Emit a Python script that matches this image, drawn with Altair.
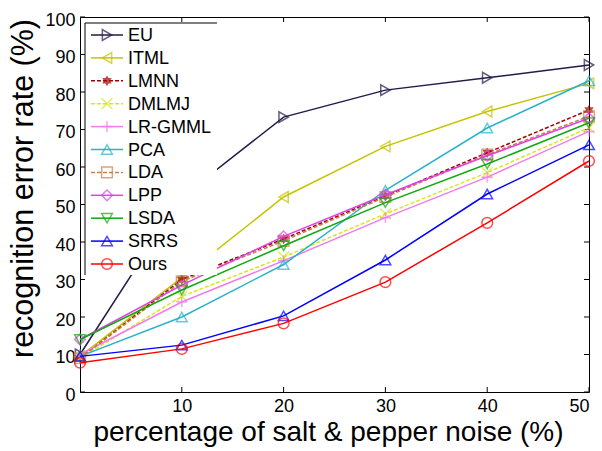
import altair as alt
import pandas as pd

# noise level (%) on the x axis
noise = [0, 10, 20, 30, 40, 50]

methods = ["EU", "ITML", "LMNN", "DMLMJ", "LR-GMML", "PCA", "LDA", "LPP", "LSDA", "SRRS", "Ours"]

# recognition error rate (%) per method
eu     = [10.0, 52.0, 73.3, 80.5, 83.8, 87.2]
itml   = [9.5, 30.5, 52.0, 65.5, 74.8, 82.3]
lmnn   = [9.0, 30.0, 40.8, 52.3, 63.8, 75.2]
dmlmj  = [9.0, 25.5, 36.0, 47.5, 58.5, 70.5]
lrgmml = [10.0, 24.0, 35.0, 46.5, 57.3, 69.5]
pca    = [9.5, 20.0, 34.0, 53.8, 70.4, 83.0]
lda    = [9.0, 29.5, 40.3, 52.0, 63.3, 73.5]
lpp    = [14.0, 28.5, 41.5, 52.6, 63.0, 73.0]
lsda   = [14.0, 27.2, 39.0, 50.5, 60.8, 71.8]
srrs   = [9.5, 12.5, 20.3, 35.2, 52.8, 65.9]
ours   = [7.8, 11.5, 18.3, 29.3, 45.1, 61.6]

series = [eu, itml, lmnn, dmlmj, lrgmml, pca, lda, lpp, lsda, srrs, ours]

colors = ["#251a48", "#c4c400", "#a00000", "#d6e81a", "#f07cf0", "#29b2cc",
          "#c8804a", "#e040e8", "#10a810", "#0000ff", "#ff0000"]
dashed = [False, False, True, True, False, False, True, False, False, False, False]

HEX = ("M0,-1L0.29,-0.5L0.87,-0.5L0.58,0L0.87,0.5L0.29,0.5L0,1L-0.29,0.5"
       "L-0.87,0.5L-0.58,0L-0.87,-0.5L-0.29,-0.5Z")
CROSS_X = "M-1,-1L1,1M-1,1L1,-1"
PLUS = "M-1,0L1,0M0,-1L0,1"
shapes = ["triangle-right", "triangle-left", HEX, CROSS_X, PLUS, "triangle-up",
          "square", "diamond", "triangle-down", "triangle-up", "circle"]
filled = [False, False, True, False, False, False, False, False, False, False, False]

y_ticks = list(range(0, 101, 10))
x_ticks = [10, 20, 30, 40, 50]

W, H = 509, 375
FONT = "Liberation Sans"
MARK_SIZE = 115

x_enc = alt.X(
    "noise:Q",
    scale=alt.Scale(domain=[0, 50], nice=False, zero=False),
    axis=alt.Axis(values=x_ticks, title="percentage of salt & pepper noise (%)",
                  titleX=248, titleY=48, titleBaseline="alphabetic", titleAlign="center",
                  titleFontSize=28, labelPadding=5),
)
y_enc = alt.Y(
    "rate:Q",
    scale=alt.Scale(domain=[0, 100], nice=False),
    axis=alt.Axis(values=y_ticks, title="recognition error rate (%)",
                  titleX=-48, titleY=171, titleBaseline="alphabetic", titleAlign="center",
                  titleFontSize=30.5, labelPadding=5, labelOffset=3),
)

layers = []

# inward tick marks on all four sides
ydf = pd.DataFrame({"rate": y_ticks})
xdf = pd.DataFrame({"noise": x_ticks})
layers.append(alt.Chart(ydf).mark_rule(color="black", strokeWidth=1).encode(
    y=y_enc, x=alt.value(0), x2=alt.value(5)))
layers.append(alt.Chart(ydf).mark_rule(color="black", strokeWidth=1).encode(
    y=y_enc, x=alt.value(W), x2=alt.value(W - 5)))
layers.append(alt.Chart(xdf).mark_rule(color="black", strokeWidth=1).encode(
    x=x_enc, y=alt.value(H), y2=alt.value(H - 5)))
layers.append(alt.Chart(xdf).mark_rule(color="black", strokeWidth=1).encode(
    x=x_enc, y=alt.value(0), y2=alt.value(5)))

# one line + markers per method, later methods drawn on top
for name, vals, col, dsh, shp, fil in zip(methods, series, colors, dashed, shapes, filled):
    df = pd.DataFrame({"noise": noise, "rate": vals, "method": name})
    line_kw = dict(color=col, strokeWidth=1.5)
    if dsh:
        line_kw["strokeDash"] = [4, 2]
    layers.append(alt.Chart(df).mark_line(**line_kw).encode(x=x_enc, y=y_enc))
    pt_kw = dict(shape=shp, size=MARK_SIZE, strokeWidth=1.5, color=col, filled=fil)
    layers.append(alt.Chart(df).mark_point(**pt_kw).encode(x=x_enc, y=y_enc))

# legend box (white panel with top and left border)
one = pd.DataFrame({"k": [0]})
layers.append(alt.Chart(one).mark_rect(fill="white").encode(
    x=alt.value(5), x2=alt.value(137), y=alt.value(6), y2=alt.value(258)))
layers.append(alt.Chart(one).mark_rule(color="black", strokeWidth=1).encode(
    x=alt.value(5), x2=alt.value(137), y=alt.value(6)))
layers.append(alt.Chart(one).mark_rule(color="black", strokeWidth=1).encode(
    x=alt.value(5), y=alt.value(6), y2=alt.value(258)))

ROW0, ROW_STEP = 18, 22.9
for i, (name, col, dsh, shp, fil) in enumerate(zip(methods, colors, dashed, shapes, filled)):
    ly = ROW0 + ROW_STEP * i
    row = pd.DataFrame({"method": [name]})
    line_kw = dict(color=col, strokeWidth=1.5)
    if dsh:
        line_kw["strokeDash"] = [4, 2]
    layers.append(alt.Chart(row).mark_rule(**line_kw).encode(
        x=alt.value(11), x2=alt.value(43), y=alt.value(ly)))
    layers.append(alt.Chart(row).mark_point(shape=shp, size=MARK_SIZE, strokeWidth=1.5,
                                            color=col, filled=fil).encode(
        x=alt.value(27), y=alt.value(ly)))
    layers.append(alt.Chart(row).mark_text(align="left", baseline="middle", font=FONT,
                                           fontSize=18, color="black").encode(
        text="method:N", x=alt.value(48), y=alt.value(ly + 1)))

chart = alt.layer(*layers).properties(
    width=W,
    height=H,
    padding={"left": 80, "top": 17, "right": 13, "bottom": 59},
    autosize=alt.AutoSizeParams(type="none"),
    background="white",
).configure_view(
    stroke="black", strokeWidth=1
).configure_axis(
    domain=False, ticks=False, tickSize=0, grid=False,
    labelFont=FONT, labelFontSize=18, labelColor="black",
    titleFont=FONT, titleFontWeight="normal", titleColor="black",
)

chart.save("out.html", embed_options={"renderer": "svg", "actions": False})
